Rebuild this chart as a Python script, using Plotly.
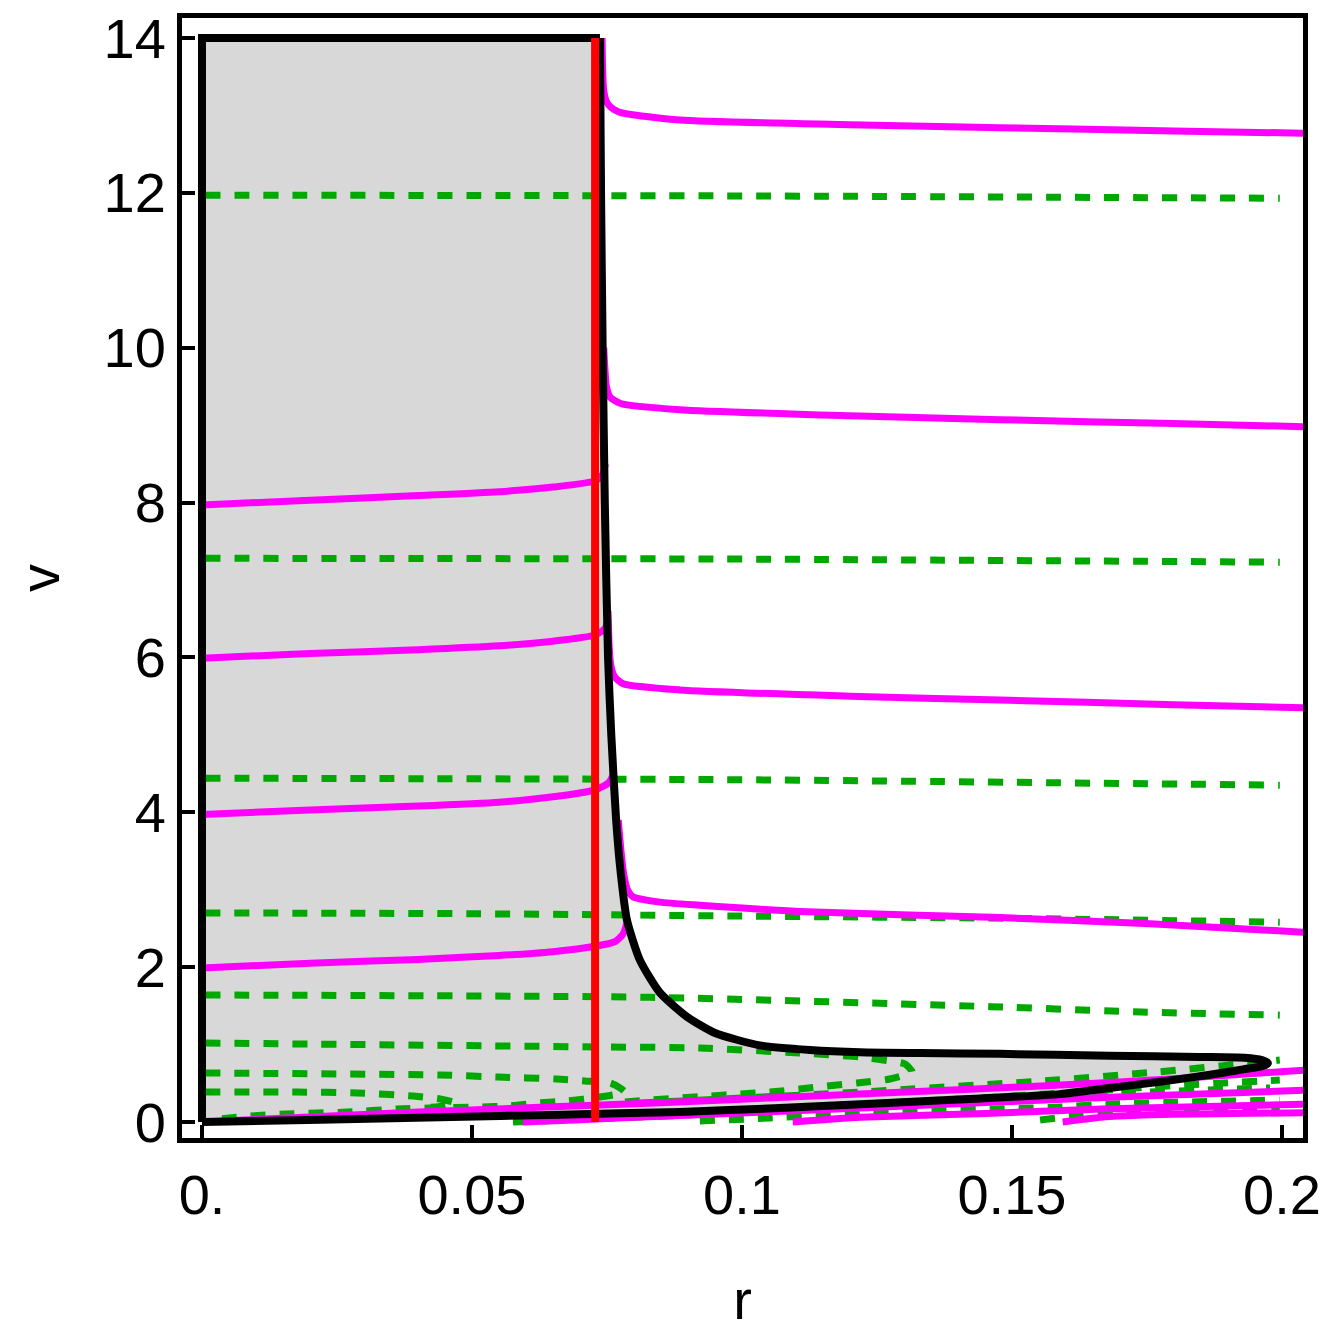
import plotly.graph_objects as go

# ── colours ───────────────────────────────────────────────────────────
GRAY_FILL = "#d8d8d8"
BLACK     = "#000000"
MAGENTA   = "#ff00ff"
GREEN     = "#00a800"
RED       = "#ff0000"
FONT      = "Liberation Sans, Arial, sans-serif"

# ── shaded region: top edge and left edge (straight part) ─────────────
RECT_R = [0.0737, 0.0, 0.0]
RECT_V = [14.0, 14.0, 0.0]

# ── shaded region: right branch from the top down to the tip, lower branch back ──
BOUND_R = [0.0737, 0.0739, 0.0742, 0.0746, 0.0752, 0.0758, 0.0767, 0.0775,
           0.0787, 0.0811, 0.0848, 0.0898, 0.095, 0.1033, 0.1126, 0.1219, 0.133,
           0.1478, 0.1681, 0.1848, 0.1931, 0.1963, 0.1974, 0.1963, 0.1928, 0.1867,
           0.1774, 0.1681, 0.1589, 0.14, 0.125, 0.107, 0.0885, 0.0663, 0.0441, 0.0219, 0.0]
BOUND_V = [14.0, 12.0, 10.0, 8.0, 6.0, 5.0, 3.9, 3.25,
           2.61, 2.09, 1.67, 1.36, 1.15, 0.99, 0.93, 0.90, 0.89,
           0.88, 0.855, 0.84, 0.83, 0.80, 0.76, 0.72, 0.68, 0.61,
           0.52, 0.44, 0.36, 0.29, 0.24, 0.18, 0.13, 0.095, 0.06, 0.03, 0.0]

# ── red vertical line ─────────────────────────────────────────────────
RED_R = [0.0728, 0.0728]
RED_V = [0.0, 14.0]

# ── magenta trajectories inside the region (left) ─────────────────────
ML_R = [0.0, 0.02, 0.04, 0.055, 0.065, 0.0728]
ML8_R = ML_R + [0.0742, 0.0747]
ML8_V = [7.97, 8.03, 8.09, 8.14, 8.2, 8.28, 8.36, 8.5]
ML6_R = ML_R + [0.0746, 0.0753]
ML6_V = [5.99, 6.05, 6.1, 6.15, 6.21, 6.29, 6.37, 6.5]
ML4_R = ML_R + [0.0753, 0.0763]
ML4_V = [3.97, 4.03, 4.08, 4.13, 4.2, 4.29, 4.38, 4.5]
ML2_R = ML_R + [0.0765, 0.078, 0.0787]
ML2_V = [1.99, 2.05, 2.1, 2.15, 2.2, 2.27, 2.33, 2.43, 2.57]

# ── magenta trajectories outside the region (right) ───────────────────
MR1_R = [0.0741, 0.0742, 0.0744, 0.0749, 0.0758, 0.0774, 0.0885, 0.12, 0.1478, 0.18, 0.2043]
MR1_V = [14.0, 13.6, 13.32, 13.18, 13.1, 13.04, 12.94, 12.88, 12.84, 12.8, 12.77]
MR2_R = [0.0744, 0.0746, 0.0749, 0.0756, 0.0775, 0.0885, 0.12, 0.1478, 0.18, 0.2043]
MR2_V = [10.0, 9.75, 9.5, 9.36, 9.28, 9.2, 9.12, 9.07, 9.02, 8.98]
MR3_R = [0.0752, 0.0754, 0.0757, 0.0764, 0.078, 0.0885, 0.12, 0.1478, 0.18, 0.2043]
MR3_V = [6.6, 6.15, 5.9, 5.75, 5.66, 5.58, 5.5, 5.45, 5.39, 5.35]
MR4_R = [0.0771, 0.0776, 0.0781, 0.0788, 0.0798, 0.0848, 0.0922, 0.1107, 0.1478, 0.1756, 0.2043]
MR4_V = [3.9, 3.5, 3.2, 3.0, 2.91, 2.84, 2.80, 2.72, 2.64, 2.56, 2.45]

# ── magenta trajectories along the bottom ─────────────────────────────
MA_R = [0.0, 0.04, 0.085, 0.125, 0.16, 0.18, 0.2043]
MA_V = [0.0, 0.13, 0.25, 0.37, 0.48, 0.56, 0.67]
MB_R = [0.0594, 0.07, 0.085, 0.122, 0.168, 0.2043]
MB_V = [0.0, 0.03, 0.075, 0.18, 0.32, 0.41]
MC_R = [0.1094, 0.122, 0.145, 0.168, 0.2043]
MC_V = [0.0, 0.06, 0.11, 0.17, 0.23]
MD_R = [0.1594, 0.168, 0.18, 0.2043]
MD_V = [0.0, 0.07, 0.1, 0.12]

# ── green dashed trajectories ─────────────────────────────────────────
G1_R = [0.0006, 0.1, 0.1996]
G1_V = [11.97, 11.96, 11.93]
G2_R = [0.0006, 0.1, 0.1996]
G2_V = [7.28, 7.27, 7.23]
G3_R = [0.0006, 0.1, 0.1996]
G3_V = [4.44, 4.42, 4.35]
G4_R = [0.0006, 0.05, 0.1, 0.15, 0.1996]
G4_V = [2.70, 2.69, 2.66, 2.63, 2.58]
G5_R = [0.0006, 0.083, 0.146, 0.174, 0.1996]
G5_V = [1.64, 1.61, 1.49, 1.42, 1.38]
G6_R = [0.0006, 0.0728, 0.0922, 0.1107, 0.1219, 0.1274, 0.1302, 0.1315, 0.1274, 0.1213,
        0.1157, 0.1107, 0.1052, 0.0996, 0.0941, 0.0885, 0.083, 0.078]
G6_V = [1.02, 0.97, 0.956, 0.891, 0.84, 0.788, 0.749, 0.646, 0.555, 0.504,
        0.465, 0.426, 0.387, 0.362, 0.336, 0.31, 0.284, 0.258]
G7_R = [0.0006, 0.0441, 0.0548, 0.0657, 0.0709, 0.0756, 0.0774, 0.0783, 0.0737, 0.0676,
        0.0622, 0.057, 0.0515, 0.0422, 0.0361, 0.0269, 0.0157, 0.0089, 0.0015]
G7_V = [0.633, 0.607, 0.581, 0.555, 0.53, 0.504, 0.44, 0.387, 0.323, 0.271,
        0.245, 0.207, 0.194, 0.181, 0.168, 0.129, 0.103, 0.077, 0.026]
G8_R = [0.0006, 0.0176, 0.0287, 0.0391, 0.0441, 0.0469, 0.045, 0.0404]
G8_V = [0.387, 0.387, 0.375, 0.336, 0.297, 0.245, 0.207, 0.181]
GR1_R = [0.0811, 0.1219, 0.1557, 0.1769, 0.1996]
GR1_V = [0.245, 0.387, 0.53, 0.646, 0.80]
GR2_R = [0.1015, 0.1478, 0.1756, 0.1996]
GR2_V = [0.155, 0.323, 0.452, 0.542]
GR3_R = [0.0576, 0.09, 0.12, 0.15, 0.1706, 0.1978]
GR3_V = [0.0, 0.09, 0.2, 0.3, 0.374, 0.44]
GR4_R = [0.0922, 0.1052, 0.1219, 0.1589, 0.1681, 0.1996]
GR4_V = [0.013, 0.052, 0.116, 0.194, 0.232, 0.284]
GR5_R = [0.1552, 0.163, 0.17, 0.1996]
GR5_V = [0.026, 0.09, 0.125, 0.15]

X_TICKS = [0.0, 0.05, 0.1, 0.15, 0.2]
X_TICK_TEXT = ["0.", "0.05", "0.1", "0.15", "0.2"]
Y_TICKS = [0, 2, 4, 6, 8, 10, 12, 14]


def _line(r, v, color, width, dash="solid", shape="spline"):
    return go.Scatter(
        x=r, y=v, mode="lines",
        line=dict(color=color, width=width, dash=dash, shape=shape, smoothing=0.6),
        hoverinfo="skip", showlegend=False,
    )


fig = go.Figure()

# shaded region first, its outline drawn later on top of the trajectories
fig.add_trace(go.Scatter(
    x=RECT_R + BOUND_R, y=RECT_V + BOUND_V, mode="lines", fill="toself",
    fillcolor=GRAY_FILL, line=dict(width=0), hoverinfo="skip", showlegend=False,
))

green = [(G1_R, G1_V), (G2_R, G2_V), (G3_R, G3_V), (G4_R, G4_V), (G5_R, G5_V),
         (G6_R, G6_V), (G7_R, G7_V), (G8_R, G8_V), (GR1_R, GR1_V), (GR2_R, GR2_V),
         (GR3_R, GR3_V), (GR4_R, GR4_V), (GR5_R, GR5_V)]
for r, v in green:
    fig.add_trace(_line(r, v, GREEN, 7, dash="15px,14px"))

magenta = [(ML8_R, ML8_V), (ML6_R, ML6_V), (ML4_R, ML4_V), (ML2_R, ML2_V),
           (MR1_R, MR1_V), (MR2_R, MR2_V), (MR3_R, MR3_V), (MR4_R, MR4_V),
           (MA_R, MA_V), (MB_R, MB_V), (MC_R, MC_V), (MD_R, MD_V)]
for r, v in magenta:
    fig.add_trace(_line(r, v, MAGENTA, 7))

fig.add_trace(_line(RECT_R, RECT_V, BLACK, 8, shape="linear"))
fig.add_trace(_line(BOUND_R, BOUND_V, BLACK, 8))
fig.add_trace(_line(RED_R, RED_V, RED, 8, shape="linear"))

axis_common = dict(
    showgrid=False, zeroline=False, automargin=False,
    showline=True, linewidth=5, linecolor=BLACK, mirror=True,
    ticks="inside", ticklen=13, tickwidth=4, tickcolor=BLACK,
    ticklabeloverflow="allow",
    tickfont=dict(family=FONT, size=56, color=BLACK),
)

# the page body adds an 8px offset, so the margins are shifted by that much
fig.update_layout(
    width=1329, height=1334,
    margin=dict(l=174, r=34, t=10, b=204),
    paper_bgcolor="white", plot_bgcolor="white",
    font=dict(family=FONT, size=56, color=BLACK),
    showlegend=False,
    xaxis=dict(
        range=[-0.0037, 0.2039],
        tickvals=X_TICKS, ticktext=X_TICK_TEXT,
        ticklabelstandoff=4,
        title=dict(text="r", font=dict(family=FONT, size=56), standoff=56),
        **axis_common,
    ),
    yaxis=dict(
        range=[-0.2066, 14.258],
        tickvals=Y_TICKS,
        ticklabelstandoff=0,
        title=dict(text="v", font=dict(family=FONT, size=56), standoff=36),
        **axis_common,
    ),
)

fig.write_html("out.html")
